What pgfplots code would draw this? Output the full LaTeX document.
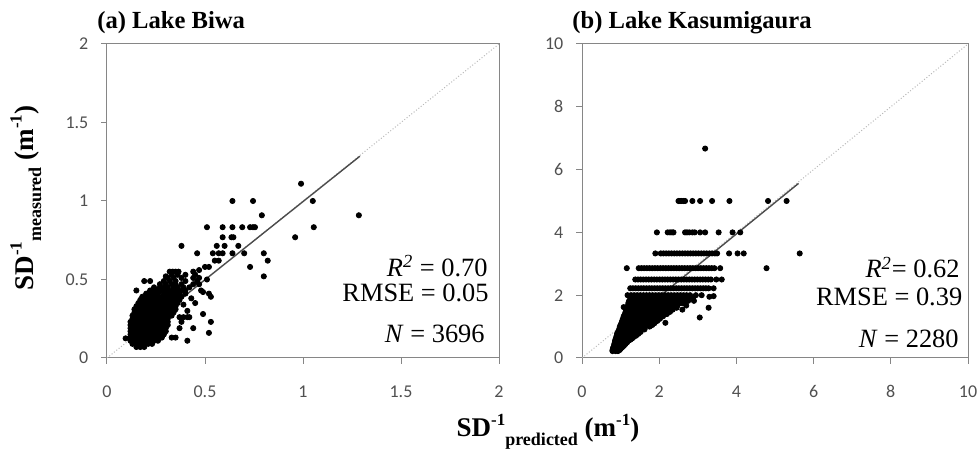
\documentclass[border=0pt]{standalone}
\usepackage{fontspec}
\setmainfont{Liberation Serif}
\newfontfamily\tickfont{Carlito}
\usepackage{pgfplots}
\pgfplotsset{compat=1.18}

\definecolor{axgray}{RGB}{134,134,134}
\definecolor{tickgray}{RGB}{80,80,80}

\pgfplotsset{
  lake/.style={
    scale only axis, height=157pt,
    axis line style={axgray, line width=0.5pt},
    tick style={axgray, line width=0.5pt},
    tick align=outside, major tick length=2.8pt,
    tick pos=left,
    ticklabel style={font=\tickfont\fontsize{9}{9}\selectfont, text=tickgray},
    /pgf/number format/assume math mode=true,
    scaled ticks=false,
    yticklabel style={xshift=-3pt},
    xticklabel style={yshift=-7.5pt},
  },
  pts/.style={only marks, mark=*, mark size=1.3pt, mark options={draw=black, fill=black}},
}
\newcommand{\sdlab}[1]{SD\raisebox{0.42em}{\fontsize{8.5}{8.5}\selectfont -1}\raisebox{-0.3em}{\fontsize{9}{9}\selectfont #1}}
\newcommand{\minv}{(m\raisebox{0.42em}{\fontsize{8.5}{8.5}\selectfont -1})}

\begin{document}
\begin{tikzpicture}
\useasboundingbox (0,0) rectangle (490pt,226.5pt);

% (a) Lake Biwa
\begin{axis}[lake, at={(53.5pt,47.5pt)}, anchor=south west, width=196pt,
  xmin=0, xmax=2, ymin=0, ymax=2,
  xtick={0,0.5,1,1.5,2}, ytick={0,0.5,1,1.5,2}]
\addplot[gray!55, densely dotted, line width=0.5pt] coordinates {(0,0) (2,2)};
\addplot[pts] coordinates {
(0.15,0.07)(0.17,0.07)(0.19,0.07)
(0.13,0.09)(0.15,0.09)(0.17,0.09)(0.19,0.09)(0.21,0.09)(0.23,0.09)
(0.12,0.11)(0.14,0.11)(0.16,0.11)(0.18,0.11)(0.20,0.11)(0.22,0.11)(0.24,0.11)(0.26,0.11)
(0.095,0.125)(0.12,0.13)(0.14,0.13)(0.16,0.13)(0.18,0.13)(0.20,0.13)(0.22,0.13)(0.24,0.13)(0.26,0.13)(0.28,0.13)
(0.12,0.15)(0.14,0.15)(0.16,0.15)(0.18,0.15)(0.20,0.15)(0.22,0.15)(0.24,0.15)(0.26,0.15)(0.28,0.15)(0.29,0.15)
(0.12,0.17)(0.14,0.17)(0.16,0.17)(0.18,0.17)(0.20,0.17)(0.22,0.17)(0.24,0.17)(0.26,0.17)(0.28,0.17)(0.30,0.17)
(0.12,0.19)(0.14,0.19)(0.16,0.19)(0.18,0.19)(0.20,0.19)(0.22,0.19)(0.24,0.19)(0.26,0.19)(0.28,0.19)(0.30,0.19)
(0.12,0.21)(0.14,0.21)(0.16,0.21)(0.18,0.21)(0.20,0.21)(0.22,0.21)(0.24,0.21)(0.26,0.21)(0.28,0.21)(0.30,0.21)(0.31,0.21)
(0.12,0.23)(0.14,0.23)(0.16,0.23)(0.18,0.23)(0.20,0.23)(0.22,0.23)(0.24,0.23)(0.26,0.23)(0.28,0.23)(0.30,0.23)(0.31,0.23)
(0.13,0.25)(0.15,0.25)(0.17,0.25)(0.19,0.25)(0.21,0.25)(0.23,0.25)(0.25,0.25)(0.27,0.25)(0.29,0.25)(0.31,0.25)
(0.13,0.27)(0.15,0.27)(0.17,0.27)(0.19,0.27)(0.21,0.27)(0.23,0.27)(0.25,0.27)(0.27,0.27)(0.29,0.27)(0.31,0.27)(0.33,0.27)
(0.14,0.29)(0.16,0.29)(0.18,0.29)(0.20,0.29)(0.22,0.29)(0.24,0.29)(0.26,0.29)(0.28,0.29)(0.30,0.29)(0.32,0.29)(0.34,0.29)
(0.14,0.31)(0.16,0.31)(0.18,0.31)(0.20,0.31)(0.22,0.31)(0.24,0.31)(0.26,0.31)(0.28,0.31)(0.30,0.31)(0.32,0.31)(0.34,0.31)(0.35,0.31)
(0.15,0.33)(0.17,0.33)(0.19,0.33)(0.21,0.33)(0.23,0.33)(0.25,0.33)(0.27,0.33)(0.29,0.33)(0.31,0.33)(0.33,0.33)(0.35,0.33)
(0.16,0.35)(0.18,0.35)(0.20,0.35)(0.22,0.35)(0.24,0.35)(0.26,0.35)(0.28,0.35)(0.30,0.35)(0.32,0.35)(0.34,0.35)(0.36,0.35)
(0.17,0.37)(0.19,0.37)(0.21,0.37)(0.23,0.37)(0.25,0.37)(0.27,0.37)(0.29,0.37)(0.31,0.37)(0.33,0.37)(0.35,0.37)(0.37,0.37)
(0.18,0.39)(0.20,0.39)(0.22,0.39)(0.24,0.39)(0.26,0.39)(0.28,0.39)(0.30,0.39)(0.32,0.39)(0.34,0.39)(0.36,0.39)(0.38,0.39)
(0.20,0.41)(0.22,0.41)(0.24,0.41)(0.26,0.41)(0.29,0.41)(0.31,0.41)(0.33,0.41)(0.35,0.41)(0.37,0.41)(0.40,0.41)
(0.15,0.43)(0.22,0.43)(0.24,0.43)(0.26,0.43)(0.28,0.43)(0.30,0.43)(0.32,0.43)(0.34,0.43)(0.36,0.43)(0.38,0.43)(0.40,0.43)
(0.24,0.45)(0.27,0.45)(0.29,0.45)(0.31,0.45)(0.34,0.45)(0.36,0.45)(0.39,0.45)(0.42,0.45)
(0.27,0.47)(0.30,0.47)(0.33,0.47)(0.35,0.47)(0.38,0.47)(0.44,0.47)(0.47,0.47)
(0.19,0.49)(0.22,0.49)(0.29,0.49)(0.32,0.49)(0.35,0.49)(0.40,0.49)(0.46,0.49)
(0.31,0.51)(0.34,0.51)(0.38,0.51)(0.44,0.51)(0.47,0.51)(0.51,0.50)
(0.30,0.52)(0.33,0.53)(0.36,0.53)(0.40,0.53)(0.45,0.53)
(0.32,0.55)(0.335,0.55)(0.35,0.55)(0.365,0.55)(0.44,0.55)(0.47,0.56)
(0.33,0.13)(0.35,0.13)(0.41,0.11)(0.37,0.19)(0.44,0.19)(0.38,0.23)(0.53,0.23)(0.52,0.16)
(0.37,0.26)(0.39,0.26)(0.41,0.26)(0.42,0.26)(0.41,0.30)(0.39,0.34)(0.45,0.35)(0.43,0.38)(0.49,0.28)
(0.49,0.42)(0.52,0.41)(0.53,0.39)(0.48,0.43)
(0.50,0.58)(0.52,0.58)(0.73,0.58)(0.80,0.52)
(0.55,0.62)(0.57,0.62)(0.82,0.62)
(0.46,0.667)(0.54,0.667)(0.57,0.667)(0.59,0.667)(0.64,0.667)(0.70,0.667)(0.80,0.667)
(0.38,0.714)(0.56,0.714)(0.60,0.714)(0.67,0.714)
(0.59,0.769)(0.635,0.769)(0.645,0.769)(0.96,0.769)
(0.51,0.833)(0.59,0.833)(0.64,0.833)(0.69,0.833)(0.73,0.833)(0.745,0.833)(0.755,0.833)(1.055,0.833)
(0.79,0.909)(1.285,0.909)
(0.64,1.0)(0.745,1.0)(1.05,1.0)
(0.99,1.11)
};
\addplot[black!70, line width=0.7pt] coordinates {(0.12,0.12) (1.29,1.285)};
\end{axis}

% (b) Lake Kasumigaura
\begin{axis}[lake, at={(291pt,47.5pt)}, anchor=south west, width=193pt,
  xmin=0, xmax=10, ymin=0, ymax=10,
  xtick={0,2,4,6,8,10}, ytick={0,2,4,6,8,10}]
\addplot[gray!55, densely dotted, line width=0.5pt] coordinates {(0,0) (10,10)};
\addplot[pts] coordinates {
(0.79,0.22)(0.87,0.22)(0.93,0.22)
(0.79,0.25)(0.87,0.25)(0.97,0.25)
(0.80,0.29)(0.88,0.29)(0.96,0.29)(1.00,0.29)
(0.81,0.33)(0.89,0.33)(0.97,0.33)(1.03,0.33)
(0.82,0.36)(0.90,0.36)(0.98,0.36)(1.06,0.36)
(0.83,0.40)(0.91,0.40)(0.99,0.40)(1.09,0.40)
(0.84,0.45)(0.92,0.45)(1.00,0.45)(1.08,0.45)(1.13,0.45)
(0.85,0.50)(0.93,0.50)(1.01,0.50)(1.09,0.50)(1.17,0.50)
(0.86,0.56)(0.94,0.56)(1.02,0.56)(1.10,0.56)(1.18,0.56)(1.22,0.56)
(0.87,0.59)(0.95,0.59)(1.03,0.59)(1.11,0.59)(1.19,0.59)(1.26,0.59)
(0.88,0.625)(0.96,0.625)(1.04,0.625)(1.12,0.625)(1.20,0.625)(1.30,0.625)
(0.89,0.67)(0.97,0.67)(1.05,0.67)(1.13,0.67)(1.21,0.67)(1.29,0.67)(1.34,0.67)
(0.90,0.71)(0.98,0.71)(1.06,0.71)(1.14,0.71)(1.22,0.71)(1.30,0.71)(1.40,0.71)
(0.91,0.77)(0.99,0.77)(1.07,0.77)(1.15,0.77)(1.23,0.77)(1.31,0.77)(1.39,0.77)(1.46,0.77)
(0.93,0.83)(1.01,0.83)(1.09,0.83)(1.17,0.83)(1.25,0.83)(1.33,0.83)(1.41,0.83)(1.52,0.83)
(0.96,0.91)(1.04,0.91)(1.12,0.91)(1.20,0.91)(1.28,0.91)(1.36,0.91)(1.44,0.91)(1.52,0.91)(1.62,0.91)
(0.98,1.0)(1.06,1.0)(1.14,1.0)(1.22,1.0)(1.30,1.0)(1.38,1.0)(1.46,1.0)(1.54,1.0)(1.62,1.0)(1.75,1.0)
(1.00,1.05)(1.08,1.05)(1.16,1.05)(1.24,1.05)(1.32,1.05)(1.40,1.05)(1.48,1.05)(1.56,1.05)(1.64,1.05)(1.72,1.05)(1.82,1.05)
(1.02,1.11)(1.10,1.11)(1.18,1.11)(1.26,1.11)(1.34,1.11)(1.42,1.11)(1.50,1.11)(1.58,1.11)(1.66,1.11)(1.74,1.11)(1.82,1.11)(1.88,1.11)(2.16,1.12)
(1.04,1.18)(1.12,1.18)(1.20,1.18)(1.28,1.18)(1.36,1.18)(1.44,1.18)(1.52,1.18)(1.60,1.18)(1.68,1.18)(1.76,1.18)(1.84,1.18)(1.95,1.18)
(1.06,1.25)(1.14,1.25)(1.22,1.25)(1.30,1.25)(1.38,1.25)(1.46,1.25)(1.54,1.25)(1.62,1.25)(1.70,1.25)(1.78,1.25)(1.86,1.25)(1.94,1.25)(2.02,1.25)
(1.08,1.33)(1.16,1.33)(1.24,1.33)(1.32,1.33)(1.40,1.33)(1.48,1.33)(1.56,1.33)(1.64,1.33)(1.72,1.33)(1.80,1.33)(1.88,1.33)(1.96,1.33)(2.04,1.33)(2.10,1.33)(3.05,1.29)
(1.11,1.40)(1.19,1.40)(1.27,1.40)(1.35,1.40)(1.43,1.40)(1.51,1.40)(1.59,1.40)(1.67,1.40)(1.75,1.40)(1.83,1.40)(1.91,1.40)(1.99,1.40)(2.07,1.40)(2.15,1.40)(2.20,1.40)
(1.13,1.47)(1.21,1.47)(1.29,1.47)(1.37,1.47)(1.45,1.47)(1.53,1.47)(1.61,1.47)(1.69,1.47)(1.77,1.47)(1.85,1.47)(1.93,1.47)(2.01,1.47)(2.09,1.47)(2.17,1.47)(2.28,1.47)
(1.15,1.54)(1.23,1.54)(1.31,1.54)(1.39,1.54)(1.47,1.54)(1.55,1.54)(1.63,1.54)(1.71,1.54)(1.79,1.54)(1.87,1.54)(1.95,1.54)(2.03,1.54)(2.11,1.54)(2.19,1.54)(2.27,1.54)(2.35,1.54)(2.60,1.54)
(1.08,1.62)(1.17,1.60)(1.25,1.60)(1.33,1.60)(1.41,1.60)(1.49,1.60)(1.57,1.60)(1.65,1.60)(1.73,1.60)(1.81,1.60)(1.89,1.60)(1.97,1.60)(2.05,1.60)(2.13,1.60)(2.21,1.60)(2.29,1.60)(2.37,1.60)(2.45,1.60)(3.28,1.60)
(1.19,1.67)(1.27,1.67)(1.35,1.67)(1.43,1.67)(1.51,1.67)(1.59,1.67)(1.67,1.67)(1.75,1.67)(1.83,1.67)(1.91,1.67)(1.99,1.67)(2.07,1.67)(2.15,1.67)(2.23,1.67)(2.31,1.67)(2.39,1.67)(2.47,1.67)(2.70,1.67)
(1.20,1.75)(1.28,1.75)(1.36,1.75)(1.44,1.75)(1.52,1.75)(1.60,1.75)(1.68,1.75)(1.76,1.75)(1.84,1.75)(1.92,1.75)(2.00,1.75)(2.08,1.75)(2.16,1.75)(2.24,1.75)(2.32,1.75)(2.40,1.75)(2.48,1.75)(2.56,1.75)(2.62,1.75)
(1.22,1.82)(1.30,1.82)(1.38,1.82)(1.46,1.82)(1.54,1.82)(1.62,1.82)(1.70,1.82)(1.78,1.82)(1.86,1.82)(1.94,1.82)(2.02,1.82)(2.10,1.82)(2.18,1.82)(2.26,1.82)(2.34,1.82)(2.42,1.82)(2.50,1.82)(2.58,1.82)(2.66,1.82)(2.75,1.82)(2.90,1.82)
(1.25,1.92)(1.33,1.92)(1.41,1.92)(1.49,1.92)(1.57,1.92)(1.65,1.92)(1.73,1.92)(1.81,1.92)(1.89,1.92)(1.97,1.92)(2.05,1.92)(2.13,1.92)(2.21,1.92)(2.29,1.92)(2.37,1.92)(2.45,1.92)(2.53,1.92)(2.61,1.92)(2.69,1.92)(2.77,1.92)(2.88,1.92)(3.30,1.95)
(1.18,2.0)(1.27,2.0)(1.35,2.0)(1.43,2.0)(1.51,2.0)(1.59,2.0)(1.67,2.0)(1.75,2.0)(1.83,2.0)(1.91,2.0)(1.99,2.0)(2.07,2.0)(2.15,2.0)(2.23,2.0)(2.31,2.0)(2.39,2.0)(2.47,2.0)(2.55,2.0)(2.63,2.0)(2.71,2.0)(2.80,2.0)(2.95,2.0)(3.10,2.0)(3.41,1.97)
(1.25,2.22)(1.32,2.22)(1.39,2.22)(1.46,2.22)(1.53,2.22)(1.60,2.22)(1.67,2.22)(1.74,2.22)(1.81,2.22)(1.88,2.22)(1.95,2.22)(2.02,2.22)(2.09,2.22)(2.16,2.22)(2.23,2.22)(2.30,2.22)(2.37,2.22)(2.44,2.22)(2.51,2.22)(2.58,2.22)(2.65,2.22)(2.72,2.22)(2.79,2.22)(2.86,2.22)(2.93,2.22)(3.00,2.22)(3.07,2.22)(3.14,2.22)(3.21,2.22)(3.28,2.22)(3.41,2.22)
(1.38,2.5)(1.45,2.5)(1.52,2.5)(1.59,2.5)(1.66,2.5)(1.73,2.5)(1.80,2.5)(1.87,2.5)(1.94,2.5)(2.01,2.5)(2.08,2.5)(2.15,2.5)(2.22,2.5)(2.29,2.5)(2.36,2.5)(2.43,2.5)(2.50,2.5)(2.57,2.5)(2.64,2.5)(2.71,2.5)(2.78,2.5)(2.85,2.5)(2.92,2.5)(2.99,2.5)(3.06,2.5)(3.13,2.5)(3.20,2.5)(3.27,2.5)(3.34,2.5)(3.48,2.5)(3.62,2.5)
(1.16,2.86)(1.47,2.86)(1.54,2.86)(1.61,2.86)(1.68,2.86)(1.75,2.86)(1.82,2.86)(1.89,2.86)(1.96,2.86)(2.03,2.86)(2.10,2.86)(2.17,2.86)(2.24,2.86)(2.31,2.86)(2.38,2.86)(2.45,2.86)(2.52,2.86)(2.59,2.86)(2.66,2.86)(2.73,2.86)(2.80,2.86)(2.87,2.86)(2.94,2.86)(3.01,2.86)(3.08,2.86)(3.15,2.86)(3.22,2.86)(3.29,2.86)(3.36,2.86)(3.43,2.86)(3.58,2.86)(4.78,2.86)
(1.90,3.33)(2.04,3.33)(2.11,3.33)(2.18,3.33)(2.25,3.33)(2.32,3.33)(2.39,3.33)(2.46,3.33)(2.53,3.33)(2.60,3.33)(2.67,3.33)(2.74,3.33)(2.81,3.33)(2.88,3.33)(2.95,3.33)(3.02,3.33)(3.09,3.33)(3.16,3.33)(3.23,3.33)(3.30,3.33)(3.37,3.33)(3.44,3.33)(3.50,3.33)(3.81,3.33)(4.03,3.33)(4.19,3.33)(5.64,3.33)
(1.94,4.0)(2.22,4.0)(2.28,4.0)(2.33,4.0)(2.37,4.0)(2.67,4.0)(2.72,4.0)(2.78,4.0)(2.86,4.0)(2.92,4.0)(3.06,4.0)(3.19,4.0)(3.54,4.0)(3.90,4.0)(4.10,4.0)
(2.50,5.0)(2.54,5.0)(2.58,5.0)(2.63,5.0)(2.67,5.0)(2.86,5.0)(3.06,5.0)(3.37,5.0)(3.82,5.0)(4.82,5.0)(5.30,5.0)
(3.19,6.67)
};
\addplot[black!70, line width=0.7pt] coordinates {(0.85,0.8) (5.61,5.56)};
\end{axis}

% titles
\node[anchor=base west, font=\bfseries\fontsize{12.3}{13}\selectfont, inner sep=0pt] at (48.5pt,212pt) {(a) Lake Biwa};
\node[anchor=base west, font=\bfseries\fontsize{12.3}{13}\selectfont, inner sep=0pt] at (286pt,212pt) {(b) Lake Kasumigaura};

% statistics
\begin{scope}[every node/.style={anchor=base east, inner sep=0pt, font=\fontsize{13.2}{14}\selectfont}]
\node at (244pt,88.2pt) {\textit{R}\textsuperscript{\textit{2}} = 0.70};
\node at (244.5pt,75.7pt) {RMSE = 0.05};
\node at (242.5pt,55pt) {\textit{N} = 3696};
\node at (480pt,87.5pt) {\textit{R}\textsuperscript{\textit{2}}= 0.62};
\node at (481.3pt,73.5pt) {RMSE = 0.39};
\node at (479.5pt,52.5pt) {\textit{N} = 2280};
\end{scope}

% axis titles
\node[anchor=base, rotate=90, inner sep=0pt, font=\bfseries\fontsize{13.5}{14}\selectfont] at (16.5pt,127.5pt) {\sdlab{measured} \minv};
\node[anchor=base, inner sep=0pt, font=\bfseries\fontsize{13.5}{14}\selectfont] at (274pt,8pt) {\sdlab{predicted} \minv};
\end{tikzpicture}
\end{document}
